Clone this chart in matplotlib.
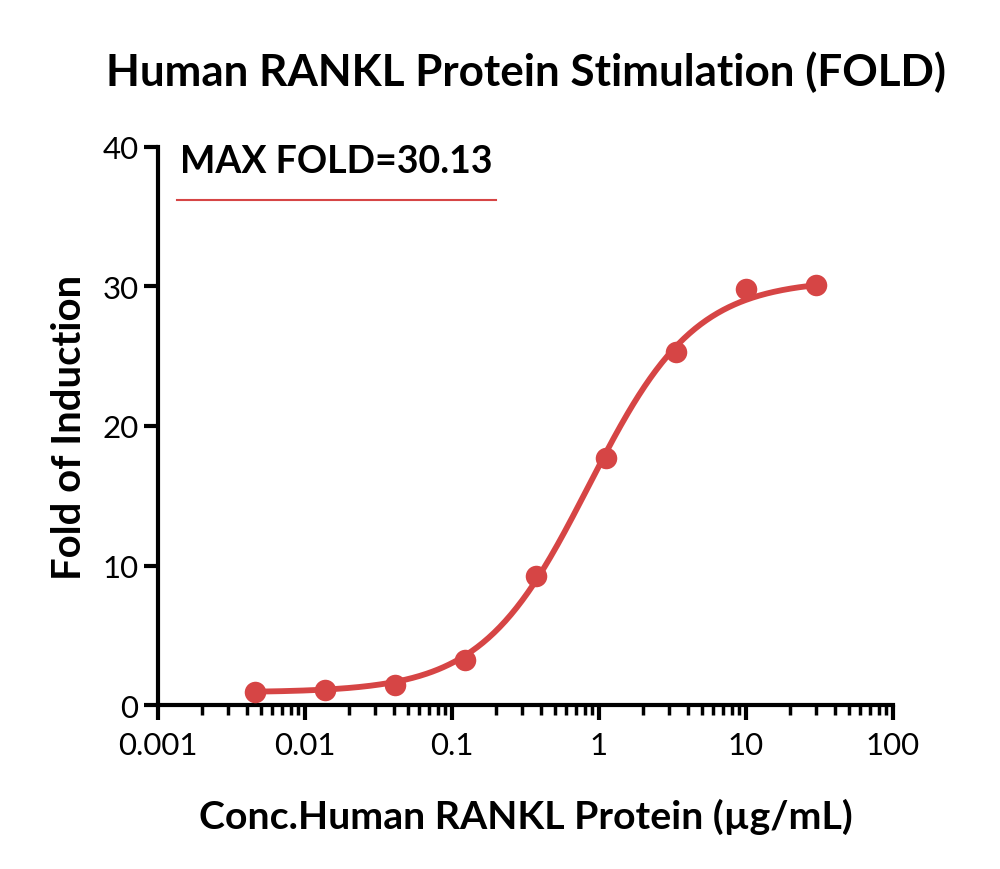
import numpy as np
import matplotlib
matplotlib.use("Agg")
import matplotlib.pyplot as plt
from matplotlib.lines import Line2D
from matplotlib.ticker import LogLocator, FixedLocator, NullFormatter

plt.rcParams['font.family'] = ['Lato', 'DejaVu Sans']

# Data
conc = [0.00457, 0.0137, 0.0412, 0.123, 0.370, 1.11, 3.33, 10.0, 30.0]
fold = [0.95, 1.1, 1.45, 3.25, 9.25, 17.7, 25.3, 29.8, 30.13]
# 4PL fit parameters (bottom, top, EC50, hill)
fit_bottom, fit_top, fit_ec50, fit_hill = 0.9, 30.5, 0.85, 1.2

x_ticks = [0.001, 0.01, 0.1, 1, 10, 100]
x_ticklabels = ["0.001", "0.01", "0.1", "1", "10", "100"]
y_ticks = [0, 10, 20, 30, 40]

title = "Human RANKL Protein Stimulation (FOLD)"
xlabel = "Conc.Human RANKL Protein (\u00b5g/mL)"
ylabel = "Fold of Induction"
annot = "MAX FOLD=30.13"

red = "#D64545"

fig = plt.figure(figsize=(10, 8.7), dpi=100)
ax = fig.add_axes([0.158, 0.1885, 0.735, 0.6414])

xs = np.logspace(np.log10(conc[0]), np.log10(conc[-1]), 400)
ys = fit_bottom + (fit_top - fit_bottom) / (1 + (fit_ec50 / xs) ** fit_hill)
ax.plot(xs, ys, color=red, lw=4.2, solid_capstyle='round', zorder=3)
ax.plot(conc, fold, 'o', color=red, ms=15.5, mec='none', zorder=4)

ax.set_xscale('log')
ax.set_xlim(0.001, 100)
ax.set_ylim(0, 40)
ax.xaxis.set_major_locator(FixedLocator(x_ticks))
ax.set_xticklabels(x_ticklabels)
ax.xaxis.set_minor_locator(LogLocator(base=10, subs=np.arange(2, 10)))
ax.xaxis.set_minor_formatter(NullFormatter())
ax.set_yticks(y_ticks)

for s in ['top', 'right']:
    ax.spines[s].set_visible(False)
for s in ['left', 'bottom']:
    ax.spines[s].set_linewidth(3.0)
ax.spines['left'].set_bounds(0, 40)

ax.tick_params(axis='x', which='major', length=11, width=3.0, labelsize=22.5, pad=8, direction='out')
ax.tick_params(axis='x', which='minor', length=7, width=2.5, direction='out')
ax.tick_params(axis='y', which='major', length=10, width=3.0, labelsize=22.5, pad=4, direction='out')

ax.set_xlabel(xlabel, fontsize=28.3, fontweight='bold', labelpad=28)
ax.set_ylabel(ylabel, fontsize=28.8, fontweight='bold', labelpad=10)

fig.text(0.526, 0.917, title, ha='center', va='center', fontsize=31.7, fontweight='bold')

ax.text(0.03, 0.975, annot, transform=ax.transAxes, fontsize=27, fontweight='bold',
        ha='left', va='center')
ax.add_line(Line2D([0.026, 0.46], [0.905, 0.905], transform=ax.transAxes,
                   color=red, lw=1.5))

fig.savefig("out.png", dpi=100, facecolor='white')
